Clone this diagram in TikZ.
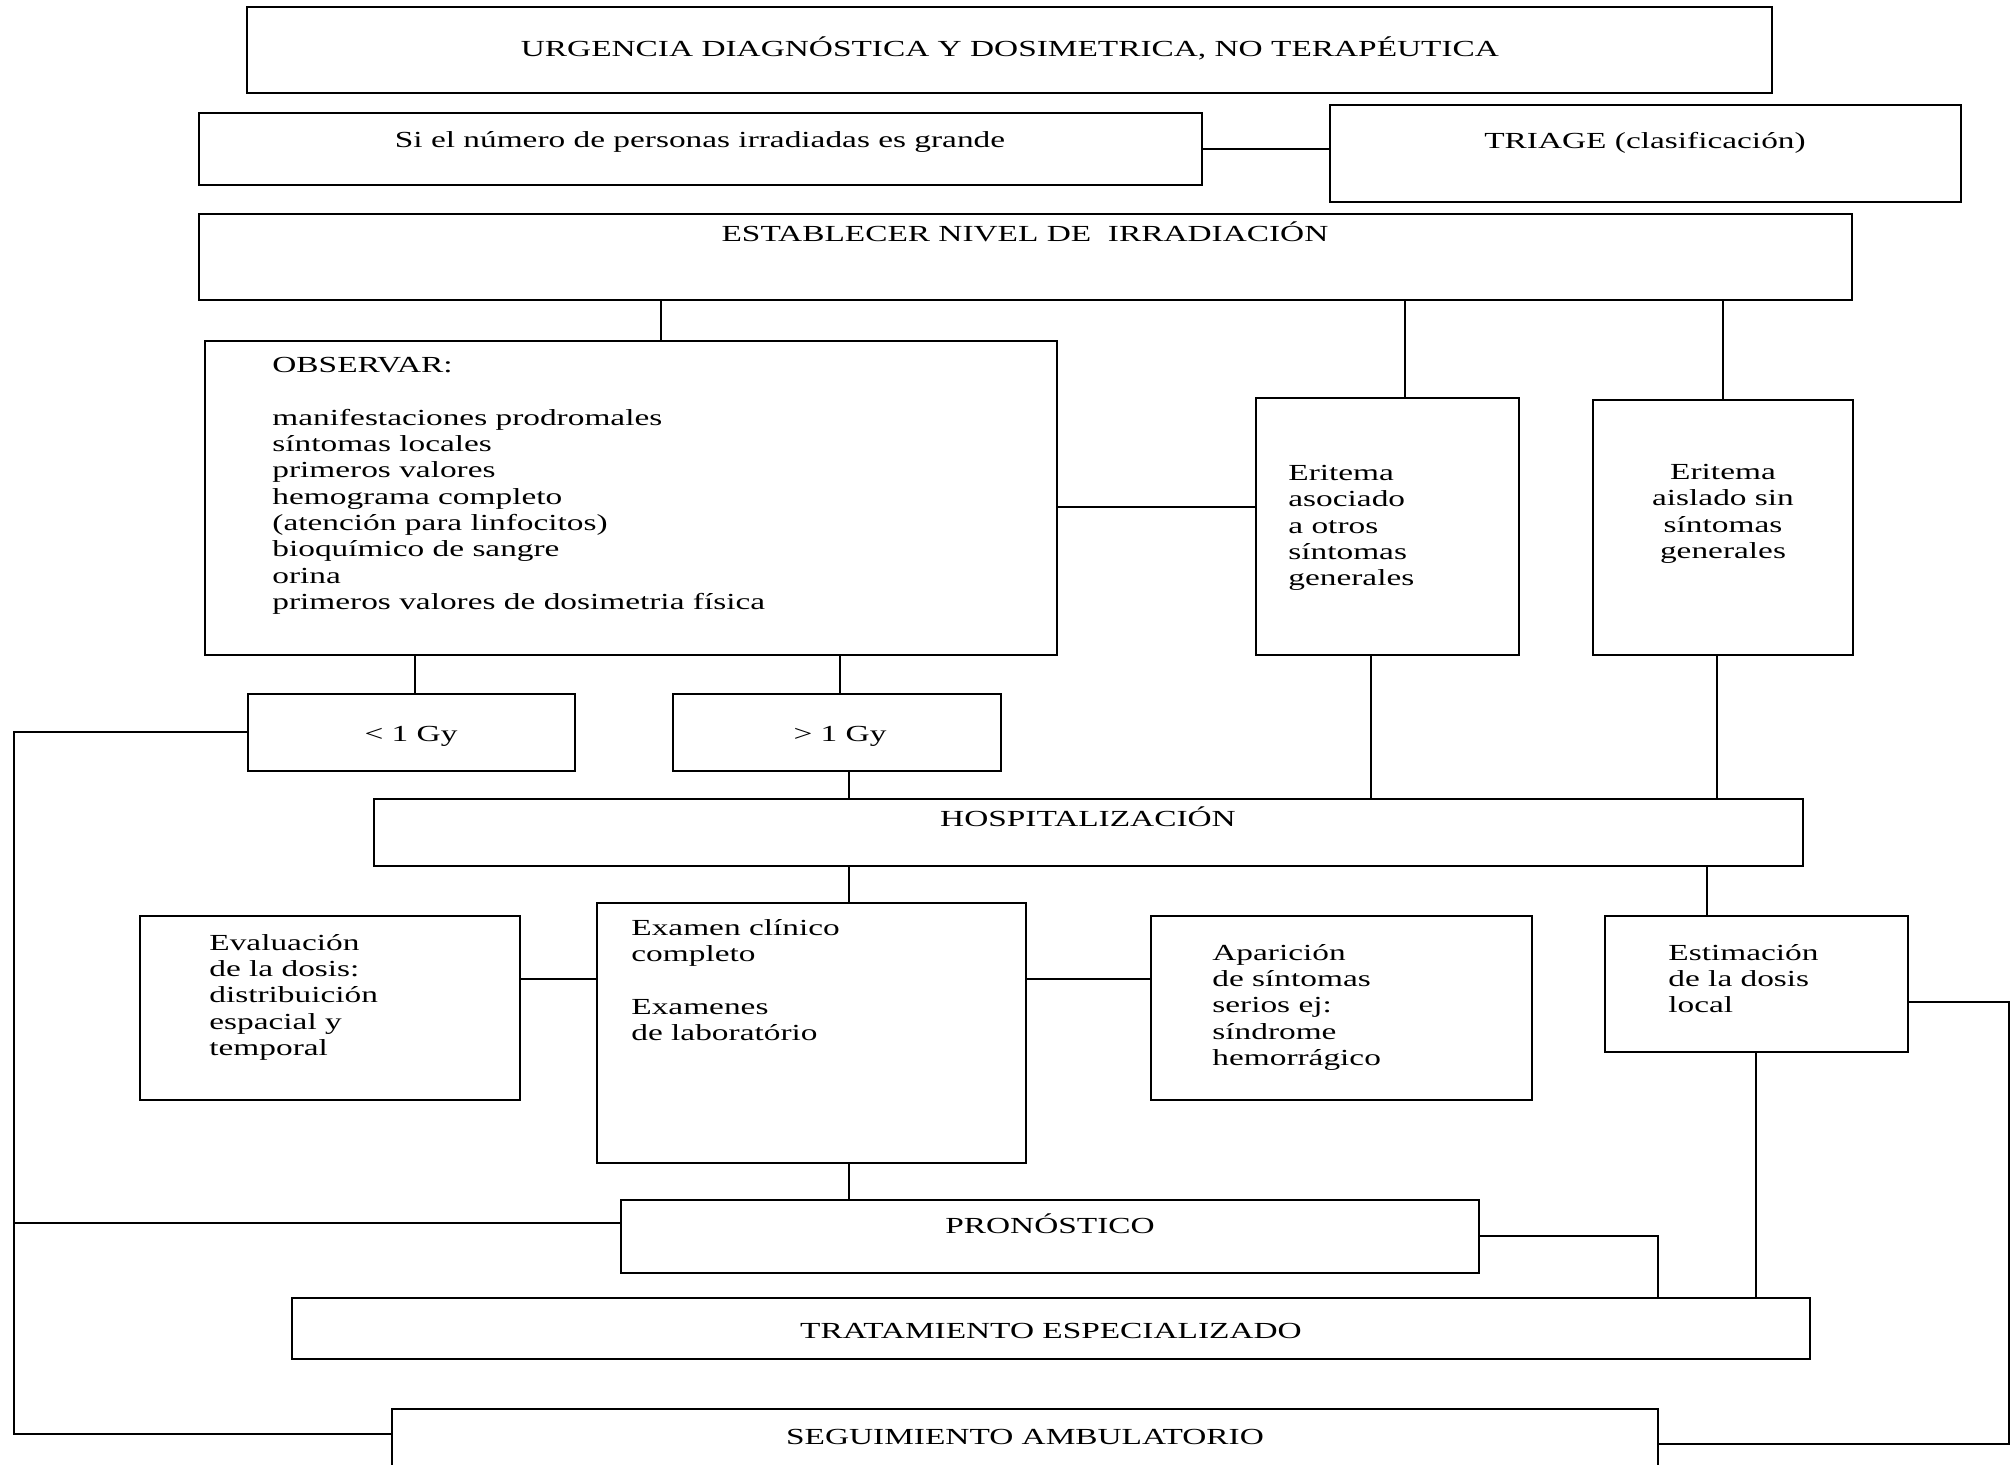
\documentclass[tikz,border=0pt]{standalone}
\usepackage{fontspec}
\setmainfont{Liberation Serif}[FakeStretch=1.45]
\usetikzlibrary{fit}
\begin{document}
\begin{tikzpicture}[x=0.5pt,y=-0.5pt,
  box/.style={draw, line width=1pt, inner sep=0pt},
  lbl/.style={inner sep=0pt, font=\fontsize{11.5}{13.15}\selectfont},
  lblL/.style={lbl, align=left, anchor=north west},
  lblC/.style={lbl, align=center, anchor=north},
  wire/.style={line width=0.8pt}]
\useasboundingbox[fill=white] (0,0) rectangle (2015,1465);

% boxes
\node[box, fit={(247,7) (1772,93)}] (title) {};
\node[box, fit={(199,113) (1202,185)}] (sig) {};
\node[box, fit={(1330,105) (1961,202)}] (tri) {};
\node[box, fit={(199,214) (1852,300)}] (est) {};
\node[box, fit={(205,341) (1057,655)}] (obs) {};
\node[box, fit={(1256,398) (1519,655)}] (eriA) {};
\node[box, fit={(1593,400) (1853,655)}] (eriB) {};
\node[box, fit={(248,694) (575,771)}] (lt) {};
\node[box, fit={(673,694) (1001,771)}] (gt) {};
\node[box, fit={(374,799) (1803,866)}] (hosp) {};
\node[box, fit={(140,916) (520,1100)}] (eval) {};
\node[box, fit={(597,903) (1026,1163)}] (exam) {};
\node[box, fit={(1151,916) (1532,1100)}] (apar) {};
\node[box, fit={(1605,916) (1908,1052)}] (estim) {};
\node[box, fit={(621,1200) (1479,1273)}] (pron) {};
\node[box, fit={(292,1298) (1810,1359)}] (trat) {};
\node[box, fit={(392,1409) (1658,1490)}] (seg) {};

% texts
\node[lbl] (tTitle) at (1010,48) {URGENCIA DIAGNÓSTICA Y DOSIMETRICA, NO TERAPÉUTICA};
\node[lbl] (tSig) at (700,142) {Si el número de personas irradiadas es grande};
\node[lbl] (tTri) at (1645,143) {TRIAGE (clasificación)};
\node[lbl] (tEst) at (1025,232) {ESTABLECER NIVEL DE\ \ IRRADIACIÓN};
\node[lblL] (tObs) at (272,357) {OBSERVAR:\\[13.15pt]
manifestaciones prodromales\\
síntomas locales\\
primeros valores\\
hemograma completo\\
(atención para linfocitos)\\
bioquímico de sangre\\
orina\\
primeros valores de dosimetria física};
\node[lblL] (tEriA) at (1288,465) {Eritema\\asociado\\a otros\\síntomas\\generales};
\node[lblC] (tEriB) at (1723,464) {Eritema\\aislado sin\\síntomas\\generales};
\node[lbl] (tLt) at (411,736) {< 1 Gy};
\node[lbl] (tGt) at (840,736) {> 1 Gy};
\node[lbl] (tHosp) at (1088,817) {HOSPITALIZACIÓN};
\node[lblL] (tEval) at (209,934) {Evaluación\\de la dosis:\\distribuición\\espacial y\\temporal};
\node[lblL] (tExam) at (631,919) {Examen clínico\\completo\\[13.15pt]Examenes\\de laboratório};
\node[lblL] (tApar) at (1212,944) {Aparición\\de síntomas\\serios ej:\\síndrome\\hemorrágico};
\node[lblL] (tEstim) at (1668,944) {Estimación\\de la dosis\\local};
\node[lbl] (tPron) at (1050,1224) {PRONÓSTICO};
\node[lbl] (tTrat) at (1051,1331) {TRATAMIENTO ESPECIALIZADO};
\node[lbl] (tSeg) at (1025,1437) {SEGUIMIENTO AMBULATORIO};

% connectors
\draw[wire] (sig.east) -- (sig.east -| tri.west);
\draw[wire] (est.south -| 661,0) -- (obs.north -| 661,0);
\draw[wire] (est.south -| 1405,0) -- (eriA.north -| 1405,0);
\draw[wire] (est.south -| eriB.north) -- (eriB.north);
\draw[wire] (obs.east |- 0,507) -- (eriA.west |- 0,507);
\draw[wire] (obs.south -| 415,0) -- (lt.north -| 415,0);
\draw[wire] (obs.south -| 840,0) -- (gt.north -| 840,0);
\draw[wire] (gt.south -| 849,0) -- (hosp.north -| 849,0);
\draw[wire] (eriA.south -| 1371,0) -- (hosp.north -| 1371,0);
\draw[wire] (eriB.south -| 1717,0) -- (hosp.north -| 1717,0);
\coordinate (L1) at (14,732);
\coordinate (L2) at (14,1223);
\coordinate (L3) at (14,1434);
\draw[wire] (lt.west |- L1) -- (L1) -- (L3) -- (seg.west |- L3);
\draw[wire] (L2) -- (pron.west |- L2);
\draw[wire] (hosp.south -| 849,0) -- (exam.north -| 849,0);
\draw[wire] (hosp.south -| 1707,0) -- (estim.north -| 1707,0);
\draw[wire] (eval.east |- 0,979) -- (exam.west |- 0,979);
\draw[wire] (exam.east |- 0,979) -- (apar.west |- 0,979);
\coordinate (R1) at (2009,1002);
\coordinate (R2) at (2009,1444);
\draw[wire] (estim.east |- R1) -- (R1) -- (R2) -- (seg.east |- R2);
\draw[wire] (estim.south -| 1756,0) -- (trat.north -| 1756,0);
\draw[wire] (exam.south -| 849,0) -- (pron.north -| 849,0);
\coordinate (P1) at (1658,1236);
\draw[wire] (pron.east |- P1) -- (P1) -- (trat.north -| P1);
\end{tikzpicture}
\end{document}
